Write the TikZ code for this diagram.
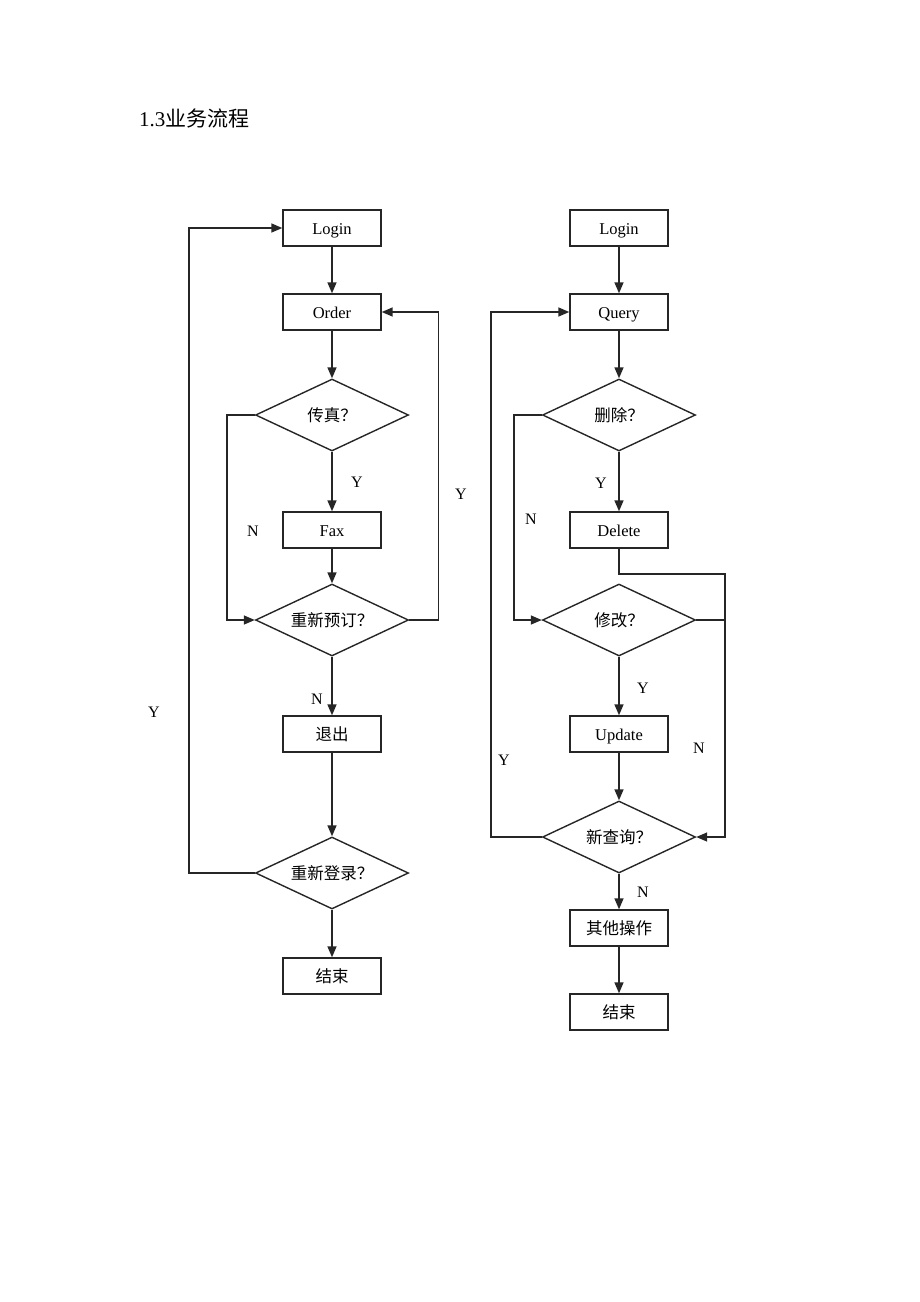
\documentclass[tikz,border=0pt]{standalone}
\usepackage{fontspec}
\setmainfont{Liberation Serif}
\newfontfamily\cjk{Noto Sans CJK SC}
\usetikzlibrary{shapes.geometric,arrows.meta}
\begin{document}
\begin{tikzpicture}[x=1pt,y=-1pt,
  txt/.style={font=\fontsize{16.5pt}{19pt}\selectfont,text height=12pt,text depth=0pt},
  box/.style={txt,draw=black!85,line width=1.4pt,minimum width=98pt,minimum height=36pt,inner sep=0pt},
  dia/.style={txt,draw=black!85,line width=1.4pt,diamond,aspect=2,minimum width=153pt,minimum height=72pt,inner sep=0pt},
  lbl/.style={font=\fontsize{16pt}{19pt}\selectfont,inner sep=0pt},
  line/.style={draw=black!85,line width=1.5pt},
  arr/.style={line,-{Triangle[length=11pt,width=9pt]}}]
\useasboundingbox (0,0) rectangle (920,1302);
\node[anchor=west,inner sep=0pt,font=\fontsize{21pt}{25pt}\selectfont] (title) at (139,118) {1.3{\cjk 业务流程}};
% left column
\node[box] (l1) at (332,228) {Login};
\node[box] (o1) at (332,312) {Order};
\node[dia] (d1) at (332,415) {\cjk 传真？};
\node[box] (fax) at (332,530) {Fax};
\node[dia] (d2) at (332,620) {\cjk 重新预订？};
\node[box] (q1) at (332,734) {\cjk 退出};
\node[dia] (d3) at (332,873) {\cjk 重新登录？};
\node[box] (e1) at (332,976) {\cjk 结束};
\node[lbl] (y1) at (357,482) {Y};
\node[lbl] (n1) at (253,531) {N};
\node[lbl] (y2) at (461,494) {Y};
\node[lbl] (n2) at (317,699) {N};
\node[lbl] (y3) at (154,712) {Y};
\draw[arr] (l1) -- (o1);
\draw[arr] (o1) -- (d1);
\draw[arr] (d1) -- (fax);
\draw[arr] (fax) -- (d2);
\draw[arr] (d2) -- (q1);
\draw[arr] (q1) -- (d3);
\draw[arr] (d3) -- (e1);
\draw[arr] (d1.west) -- ++(-28,0) |- (d2.west);
\draw[arr] (d2.east) -- ++(29.2,0) |- (o1.east);
\draw[arr] (d3.west) -- ++(-66,0) |- (l1.west);
% right column
\node[box] (l2) at (619,228) {Login};
\node[box] (qu) at (619,312) {Query};
\node[dia] (d4) at (619,415) {\cjk 删除？};
\node[box] (del) at (619,530) {Delete};
\node[dia] (d5) at (619,620) {\cjk 修改？};
\node[box] (up) at (619,734) {Update};
\node[dia] (d6) at (619,837) {\cjk 新查询？};
\node[box] (ot) at (619,928) {\cjk 其他操作};
\node[box] (e2) at (619,1012) {\cjk 结束};
\node[lbl] (y4) at (601,483) {Y};
\node[lbl] (n4) at (531,519) {N};
\node[lbl] (y5) at (643,688) {Y};
\node[lbl] (n5) at (699,748) {N};
\node[lbl] (y6) at (504,760) {Y};
\node[lbl] (n6) at (643,892) {N};
\coordinate (c1) at (619,574);
\coordinate (c2) at (725,574);
\coordinate (c3) at (725,620);
\draw[arr] (l2) -- (qu);
\draw[arr] (qu) -- (d4);
\draw[arr] (d4) -- (del);
\draw[arr] (d5) -- (up);
\draw[arr] (up) -- (d6);
\draw[arr] (d6) -- (ot);
\draw[arr] (ot) -- (e2);
\draw[arr] (d4.west) -- ++(-28,0) |- (d5.west);
\draw[arr] (del.south) -- (c1) -- (c2) |- (d6.east);
\draw[line] (d5.east) -- (c3);
\draw[arr] (d6.west) -- ++(-51,0) |- (qu.west);
\end{tikzpicture}
\end{document}
